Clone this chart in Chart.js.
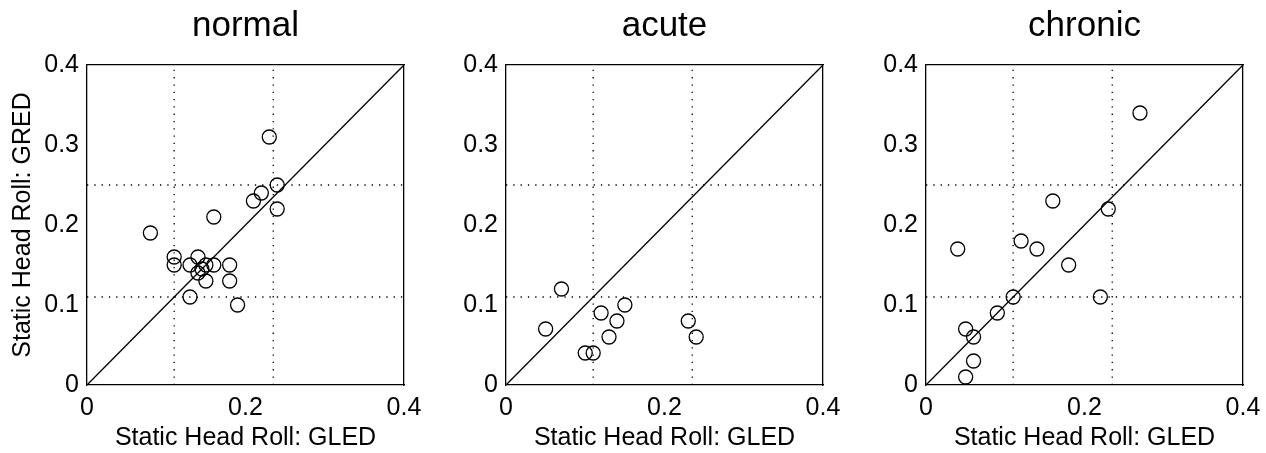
<!DOCTYPE html>
<html>
<head>
<meta charset="utf-8">
<script src="https://cdn.jsdelivr.net/npm/chart.js@4.4.0/dist/chart.umd.min.js"></script>
<style>
  body { margin: 0; background: #fff; width: 1266px; height: 453px; overflow: hidden; }
  .panel { position: absolute; top: 0; width: 422px; height: 453px; }
</style>
</head>
<body>
<div class="panel" style="left:0px"><canvas id="normal"></canvas></div>
<div class="panel" style="left:419px"><canvas id="acute"></canvas></div>
<div class="panel" style="left:839px"><canvas id="chronic"></canvas></div>
<script>
// static head roll gain, LED (x) vs RED (y)
const normalX = [0.08, 0.23, 0.24, 0.22, 0.21, 0.24, 0.16, 0.11, 0.11, 0.13, 0.14, 0.14, 0.145, 0.15, 0.16, 0.18, 0.15, 0.18, 0.13, 0.19];
const normalY = [0.19, 0.31, 0.25, 0.24, 0.23, 0.22, 0.21, 0.16, 0.15, 0.15, 0.16, 0.14, 0.145, 0.15, 0.15, 0.15, 0.13, 0.13, 0.11, 0.10];

const acuteX = [0.05, 0.07, 0.10, 0.11, 0.12, 0.13, 0.14, 0.15, 0.23, 0.24];
const acuteY = [0.07, 0.12, 0.04, 0.04, 0.09, 0.06, 0.08, 0.10, 0.08, 0.06];

const chronicX = [0.27, 0.16, 0.23, 0.04, 0.12, 0.14, 0.18, 0.11, 0.22, 0.09, 0.05, 0.06, 0.06, 0.05];
const chronicY = [0.34, 0.23, 0.22, 0.17, 0.18, 0.17, 0.15, 0.11, 0.11, 0.09, 0.07, 0.06, 0.03, 0.01];

// dotted reference lines
const dotX = [0.11, 0.235];
const dotY = [0.11, 0.25];

const xTicks = [0, 0.2, 0.4];
const yTicks = [0, 0.1, 0.2, 0.3, 0.4];
const axisMax = 0.4;

Chart.defaults.font.family = '"Liberation Sans", Arial, Helvetica, sans-serif';
Chart.defaults.color = '#000';

function makePanel(id, title, xs, ys, showYTitle) {
  const datasets = [];
  dotX.forEach(v => datasets.push({
    data: [{x: v, y: 0}, {x: v, y: axisMax}],
    showLine: true, borderColor: '#000', borderWidth: 1.3, borderDash: [1.3, 6], pointRadius: 0
  }));
  dotY.forEach(v => datasets.push({
    data: [{x: 0, y: v}, {x: axisMax, y: v}],
    showLine: true, borderColor: '#000', borderWidth: 1.3, borderDash: [1.3, 6], pointRadius: 0
  }));
  // unity line
  datasets.push({
    data: [{x: 0, y: 0}, {x: axisMax, y: axisMax}],
    showLine: true, borderColor: '#000', borderWidth: 1.3, pointRadius: 0
  });
  datasets.push({
    data: xs.map((x, i) => ({x: x, y: ys[i]})),
    pointStyle: 'circle', pointRadius: 7, pointBorderWidth: 1.3,
    borderColor: '#000', backgroundColor: 'rgba(0,0,0,0)', clip: false
  });

  new Chart(document.getElementById(id), {
    type: 'scatter',
    data: {datasets: datasets},
    options: {
      responsive: true,
      maintainAspectRatio: false,
      animation: false,
      events: [],
      layout: {padding: {left: 0, right: 18, top: 0, bottom: 0}},
      plugins: {
        legend: {display: false},
        tooltip: {enabled: false},
        title: {
          display: true, text: title, fullSize: false,
          font: {size: 35, weight: 'normal'},
          padding: {top: 5, bottom: 18}
        }
      },
      scales: {
        x: {
          type: 'linear', position: 'bottom', min: 0, max: axisMax,
          afterBuildTicks: s => { s.ticks = xTicks.map(v => ({value: v})); },
          afterFit: s => { s.height = 68; s.paddingLeft = 0; s.paddingRight = 0; },
          ticks: {font: {size: 25}, padding: 8},
          grid: {display: false, drawTicks: false, tickLength: 0},
          border: {color: '#000', width: 1.3},
          title: {display: true, text: 'Static Head Roll: GLED', font: {size: 25}, padding: 0}
        },
        y: {
          type: 'linear', position: 'left', min: 0, max: axisMax,
          afterBuildTicks: s => { s.ticks = yTicks.map(v => ({value: v})); },
          afterFit: s => { s.width = 87; s.paddingTop = 0; s.paddingBottom = 0; },
          ticks: {font: {size: 25}, padding: 8},
          grid: {display: false, drawTicks: false, tickLength: 0},
          border: {color: '#000', width: 1.3},
          title: {display: showYTitle, text: 'Static Head Roll: GRED', font: {size: 25}, padding: 8}
        },
        xTop: {
          type: 'linear', position: 'top', min: 0, max: axisMax,
          afterFit: s => { s.height = 0; },
          ticks: {display: false},
          grid: {display: false},
          border: {color: '#000', width: 1.3}
        },
        yRight: {
          type: 'linear', position: 'right', min: 0, max: axisMax,
          afterFit: s => { s.width = 0; },
          ticks: {display: false},
          grid: {display: false},
          border: {color: '#000', width: 1.3}
        }
      }
    }
  });
}

makePanel('normal', 'normal', normalX, normalY, true);
makePanel('acute', 'acute', acuteX, acuteY, false);
makePanel('chronic', 'chronic', chronicX, chronicY, false);
</script>
</body>
</html>
